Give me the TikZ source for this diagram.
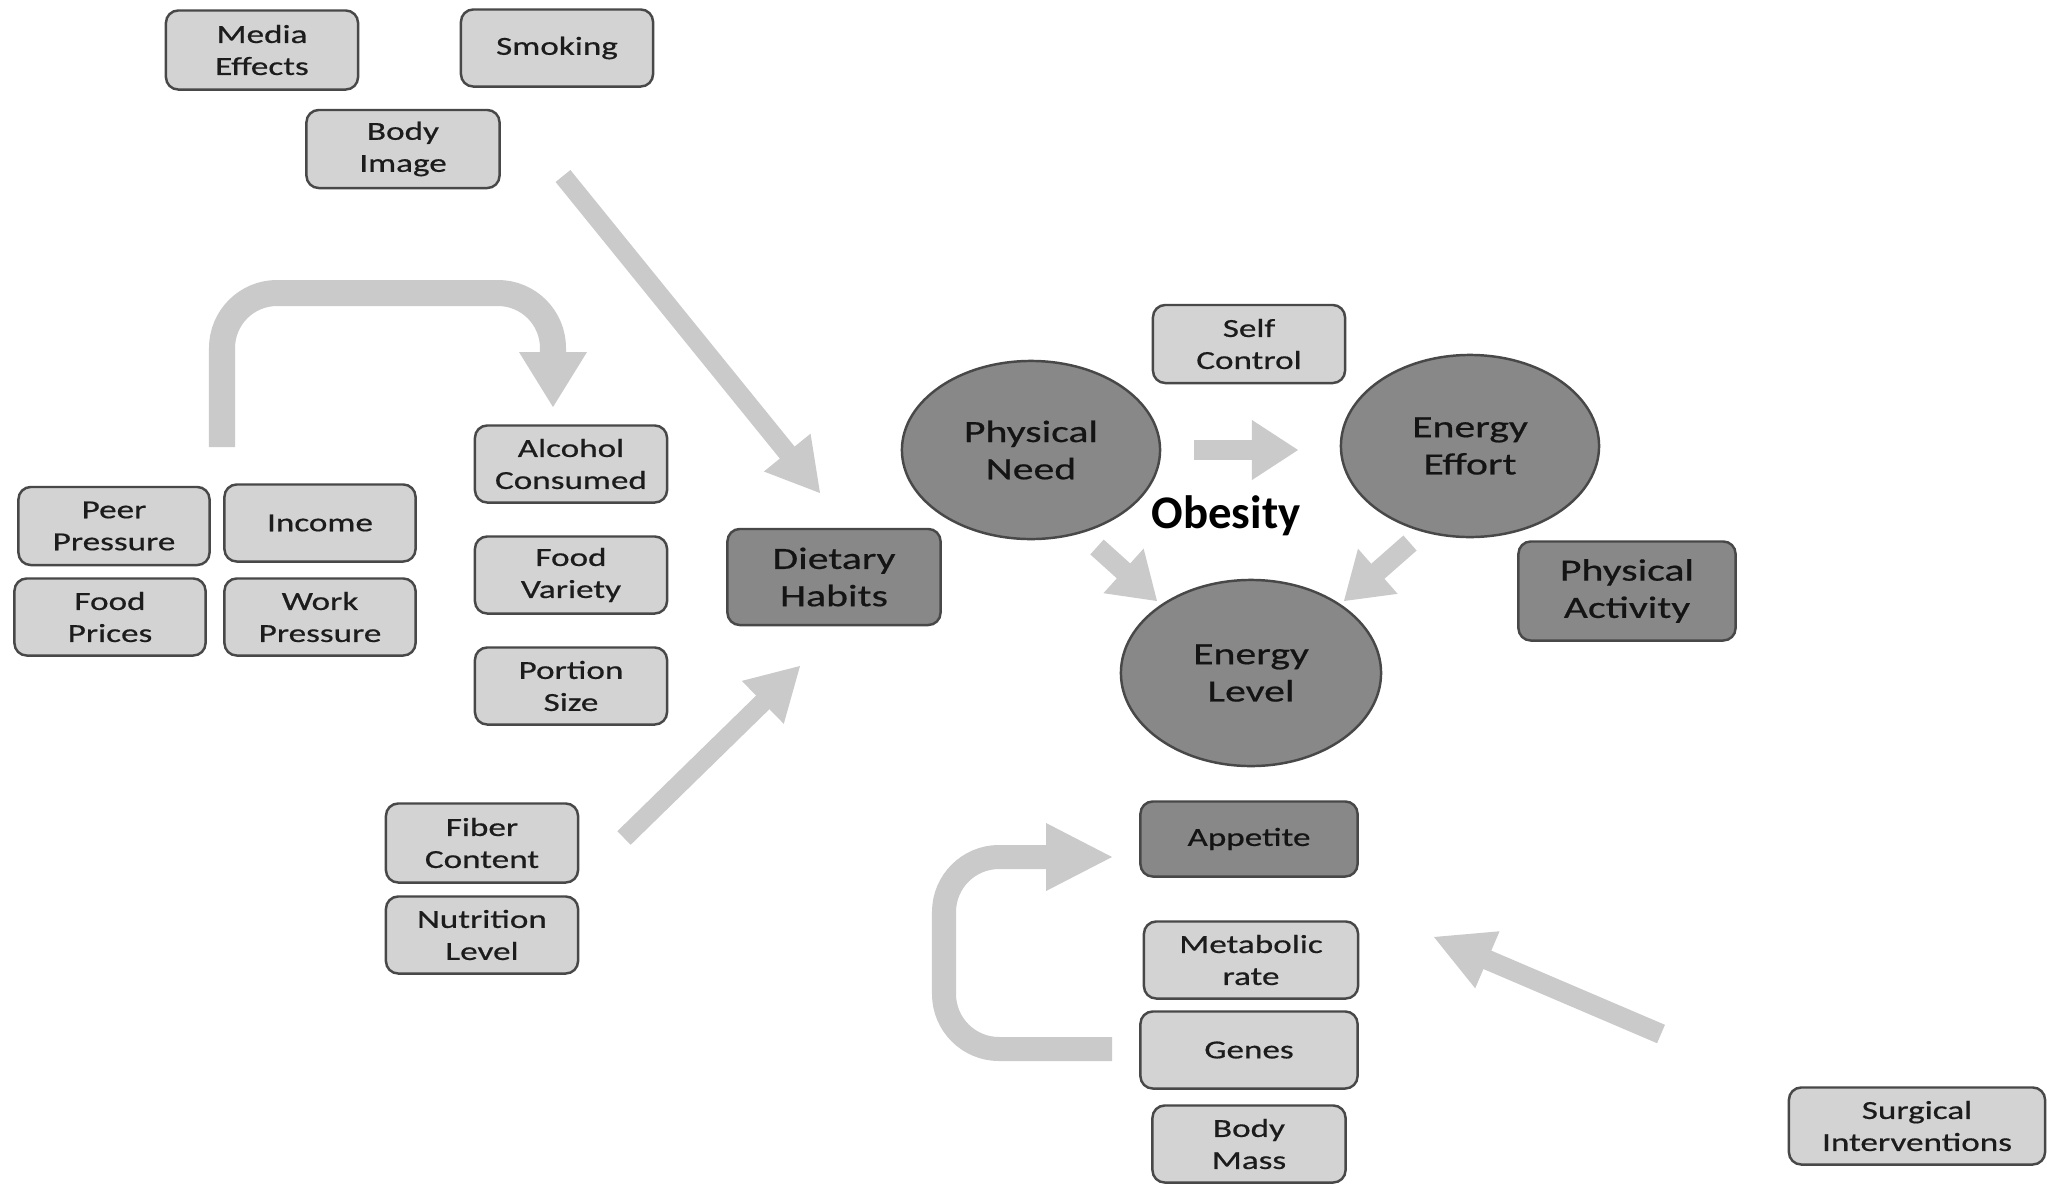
\documentclass[tikz,border=0pt]{standalone}
\usepackage{fontspec}
\usetikzlibrary{shapes.geometric,calc}
\newfontfamily\boxfont[FakeStretch=1.35,FakeBold=0.6]{Carlito}
\newfontfamily\obfont{Carlito}
\newcommand\smallfnt{\boxfont\fontsize{7.4}{9.1}\selectfont}
\newcommand\bigfnt{\boxfont\fontsize{8.8}{10.6}\selectfont}
\definecolor{boxlight}{RGB}{211,211,211}
\definecolor{boxdark}{RGB}{136,136,136}
\definecolor{bordergray}{RGB}{72,72,72}
\definecolor{arrowgray}{RGB}{202,202,202}
\definecolor{txt}{RGB}{28,28,28}
\newcommand{\straightarrow}[5]{% start, end, shaft width, head half width, head length
  \coordinate (tmpb) at ($(#2)!#5!(#1)$);
  \draw[arrowgray, line width=#3] (#1) -- ($(tmpb)!0.03cm!(#2)$);
  \fill[arrowgray] ($(tmpb)!#4!90:(#2)$) -- (#2) -- ($(tmpb)!#4!-90:(#2)$) -- cycle;}
\newcommand{\headonly}[3]{% base, tip, half width
  \fill[arrowgray] ($(#1)!#3!90:(#2)$) -- (#2) -- ($(#1)!#3!-90:(#2)$) -- cycle;}
\begin{document}
\begin{tikzpicture}[x=0.01cm,y=-0.01cm,
  lbox/.style={draw=bordergray, fill=boxlight, line width=0.7pt, rounded corners=3.5pt,
    align=center, inner sep=0pt, font=\smallfnt, text=txt},
  dbox/.style={lbox, fill=boxdark, font=\bigfnt, text=black!92},
  oval/.style={ellipse, draw=bordergray, fill=boxdark, line width=0.7pt, align=center,
    inner sep=0pt, font=\bigfnt, text=black!92}]
\fill[white] (0,0) rectangle (2047,1184);
\useasboundingbox (0,0) rectangle (2047,1184);

% ---------- arrows ----------
\coordinate (a1s) at (563,176); \coordinate (a1e) at (820,493);
\straightarrow{a1s}{a1e}{0.19cm}{0.30cm}{0.52cm}
\coordinate (a3s) at (624,838); \coordinate (a3e) at (800,666);
\straightarrow{a3s}{a3e}{0.19cm}{0.30cm}{0.52cm}
\coordinate (a4s) at (1194,450); \coordinate (a4e) at (1298,450);
\straightarrow{a4s}{a4e}{0.20cm}{0.30cm}{0.46cm}
\coordinate (a5s) at (1097,547); \coordinate (a5e) at (1157,601);
\straightarrow{a5s}{a5e}{0.20cm}{0.30cm}{0.45cm}
\coordinate (a6s) at (1410,543); \coordinate (a6e) at (1344,601);
\straightarrow{a6s}{a6e}{0.20cm}{0.30cm}{0.45cm}
\coordinate (a8s) at (1661,1034); \coordinate (a8e) at (1434,937);
\straightarrow{a8s}{a8e}{0.20cm}{0.31cm}{0.58cm}
% curved arrow (upper left)
\coordinate (a2s) at (222,447); \coordinate (a2c1) at (222,293);
\coordinate (a2c2) at (553,293); \coordinate (a2b) at (553,352); \coordinate (a2e) at (553,407);
\draw[arrowgray, line width=0.26cm, rounded corners=0.55cm] (a2s) -- (a2c1) -- (a2c2) -- ($(a2b)!0.03cm!(a2e)$);
\headonly{a2b}{a2e}{0.34cm}
% curved arrow (lower)
\coordinate (a7s) at (1112,1049); \coordinate (a7c1) at (944,1049);
\coordinate (a7c2) at (944,857); \coordinate (a7b) at (1046,857); \coordinate (a7e) at (1112,857);
\draw[arrowgray, line width=0.24cm, rounded corners=0.55cm] (a7s) -- (a7c1) -- (a7c2) -- ($(a7b)!0.03cm!(a7e)$);
\headonly{a7b}{a7e}{0.34cm}

% ---------- nodes ----------
\node[lbox, minimum width=1.92cm, minimum height=0.79cm] (media) at (262,50) {Media\\Effects};
\node[lbox, minimum width=1.92cm, minimum height=0.77cm] (smoking) at (557,48) {Smoking};
\node[lbox, minimum width=1.93cm, minimum height=0.78cm] (bodyimg) at (403,149) {Body\\Image};
\node[lbox, minimum width=1.92cm, minimum height=0.77cm] (alcohol) at (571,464) {Alcohol\\Consumed};
\node[lbox, minimum width=1.92cm, minimum height=0.77cm] (variety) at (571,575) {Food\\Variety};
\node[lbox, minimum width=1.92cm, minimum height=0.77cm] (portion) at (571,686) {Portion\\Size};
\node[lbox, minimum width=1.91cm, minimum height=0.78cm] (peer) at (114,526) {Peer\\Pressure};
\node[lbox, minimum width=1.91cm, minimum height=0.77cm] (income) at (320,523) {Income};
\node[lbox, minimum width=1.91cm, minimum height=0.77cm] (prices) at (110,617) {Food\\Prices};
\node[lbox, minimum width=1.91cm, minimum height=0.77cm] (work) at (320,617) {Work\\Pressure};
\node[lbox, minimum width=1.92cm, minimum height=0.79cm] (fiber) at (482,843) {Fiber\\Content};
\node[lbox, minimum width=1.92cm, minimum height=0.77cm] (nutrition) at (482,935) {Nutrition\\Level};
\node[dbox, minimum width=2.13cm, minimum height=0.96cm] (dietary) at (834,577) {Dietary\\Habits};
\node[oval, minimum width=2.58cm, minimum height=1.78cm] (pneed) at (1031,450) {Physical\\Need};
\node[oval, minimum width=2.58cm, minimum height=1.82cm] (effort) at (1470,446) {Energy\\Effort};
\node[oval, minimum width=2.60cm, minimum height=1.86cm] (level) at (1251,673) {Energy\\Level};
\node[lbox, minimum width=1.92cm, minimum height=0.78cm] (selfctl) at (1249,344) {Self\\Control};
\node[font=\obfont\bfseries\fontsize{13.3}{15}\selectfont, inner sep=0pt] (obesity) at (1226,516) {Obesity};
\node[dbox, minimum width=2.17cm, minimum height=0.99cm] (pactivity) at (1627,591) {Physical\\Activity};
\node[dbox, minimum width=2.17cm, minimum height=0.75cm, font=\smallfnt] (appetite) at (1249,839) {Appetite};
\node[lbox, minimum width=2.14cm, minimum height=0.77cm] (metabolic) at (1251,960) {Metabolic\\rate};
\node[lbox, minimum width=2.17cm, minimum height=0.77cm] (genes) at (1249,1050) {Genes};
\node[lbox, minimum width=1.93cm, minimum height=0.77cm] (bodymass) at (1249,1144) {Body\\Mass};
\node[lbox, minimum width=2.56cm, minimum height=0.77cm] (surgical) at (1917,1126) {Surgical\\Interventions};
\end{tikzpicture}
\end{document}
